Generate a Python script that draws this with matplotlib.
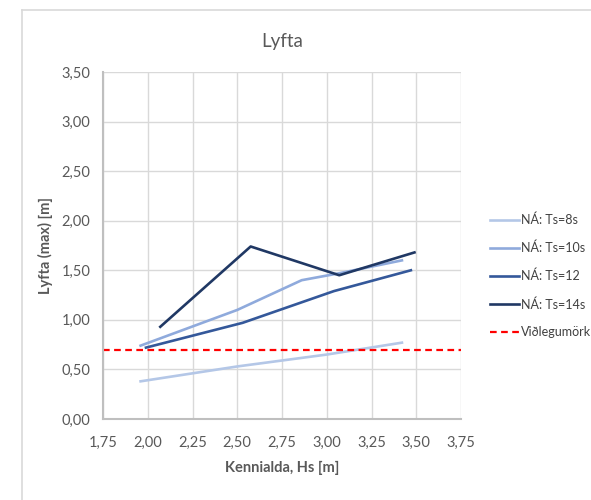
import matplotlib
matplotlib.use("Agg")
import matplotlib.pyplot as plt
from matplotlib.lines import Line2D
from matplotlib.ticker import FuncFormatter

plt.rcParams['font.family'] = ['Lato', 'DejaVu Sans']

# Data
hs_8 = [1.96, 2.50, 3.00, 3.42]
lift_8 = [0.38, 0.53, 0.65, 0.77]
hs_10 = [1.96, 2.50, 2.86, 3.07, 3.42]
lift_10 = [0.74, 1.10, 1.40, 1.47, 1.60]
hs_12 = [1.99, 2.53, 3.04, 3.47]
lift_12 = [0.72, 0.97, 1.29, 1.50]
hs_14 = [2.07, 2.575, 3.07, 3.49]
lift_14 = [0.93, 1.74, 1.45, 1.68]
limit_value = 0.70

labels = ["NÁ: Ts=8s", "NÁ: Ts=10s", "NÁ: Ts=12", "NÁ: Ts=14s", "Viðlegumörk"]
colors = ["#B4C7E7", "#8FAADC", "#34589A", "#203864"]

x_ticks = [1.75, 2.00, 2.25, 2.50, 2.75, 3.00, 3.25, 3.50, 3.75]
y_ticks = [0.00, 0.50, 1.00, 1.50, 2.00, 2.50, 3.00, 3.50]

fig = plt.figure(figsize=(5.91, 5.0), dpi=100)
ax = fig.add_axes([103/591, 1-419/500, (461-103)/591, (419-72)/500])

series = [(hs_8, lift_8), (hs_10, lift_10), (hs_12, lift_12), (hs_14, lift_14)]
for (x, y), c, lab in zip(series, colors, labels[:4]):
    ax.plot(x, y, color=c, lw=1.9, label=lab, solid_joinstyle='round')
ax.axhline(limit_value, color="#FF0000", lw=1.6, ls=(0, (3, 2)), label=labels[4])

ax.set_xlim(1.75, 3.75)
ax.set_ylim(0, 3.5)
ax.set_xticks(x_ticks)
ax.set_yticks(y_ticks)
fmt = FuncFormatter(lambda v, p: f"{v:.2f}".replace('.', ','))
ax.xaxis.set_major_formatter(fmt)
ax.yaxis.set_major_formatter(fmt)
ax.grid(True, color="#D9D9D9", lw=1.0)
ax.set_axisbelow(True)
for s in ['top', 'right']:
    ax.spines[s].set_visible(False)
for s in ['left', 'bottom']:
    ax.spines[s].set_color("#BFBFBF")
    ax.spines[s].set_linewidth(1.5)
ax.tick_params(length=0, labelsize=10.5, labelcolor="#595959", pad=9)
ax.tick_params(axis='x', pad=12)

ax.set_title("Lyfta", fontsize=13.5, color="#595959", pad=18)
ax.set_xlabel("Kennialda, Hs [m]", fontsize=10.5, color="#595959", fontweight='bold', labelpad=8)
ax.set_ylabel("Lyfta (max) [m]", fontsize=10.5, color="#595959", fontweight='bold', labelpad=6)

leg = ax.legend(loc='center left', bbox_to_anchor=(479/591, 1-276/500),
                bbox_transform=fig.transFigure, frameon=False, fontsize=9,
                handlelength=2.3, handletextpad=0.15, labelspacing=1.25)
for t in leg.get_texts():
    t.set_color("#404040")

# chart border (top and left visible)
fig.add_artist(Line2D([22/591, 22/591], [0, 1-10/500], color="#D9D9D9", lw=1.2, transform=fig.transFigure))
fig.add_artist(Line2D([22/591, 1], [1-10/500, 1-10/500], color="#D9D9D9", lw=1.2, transform=fig.transFigure))

fig.savefig("out.png", dpi=100)
